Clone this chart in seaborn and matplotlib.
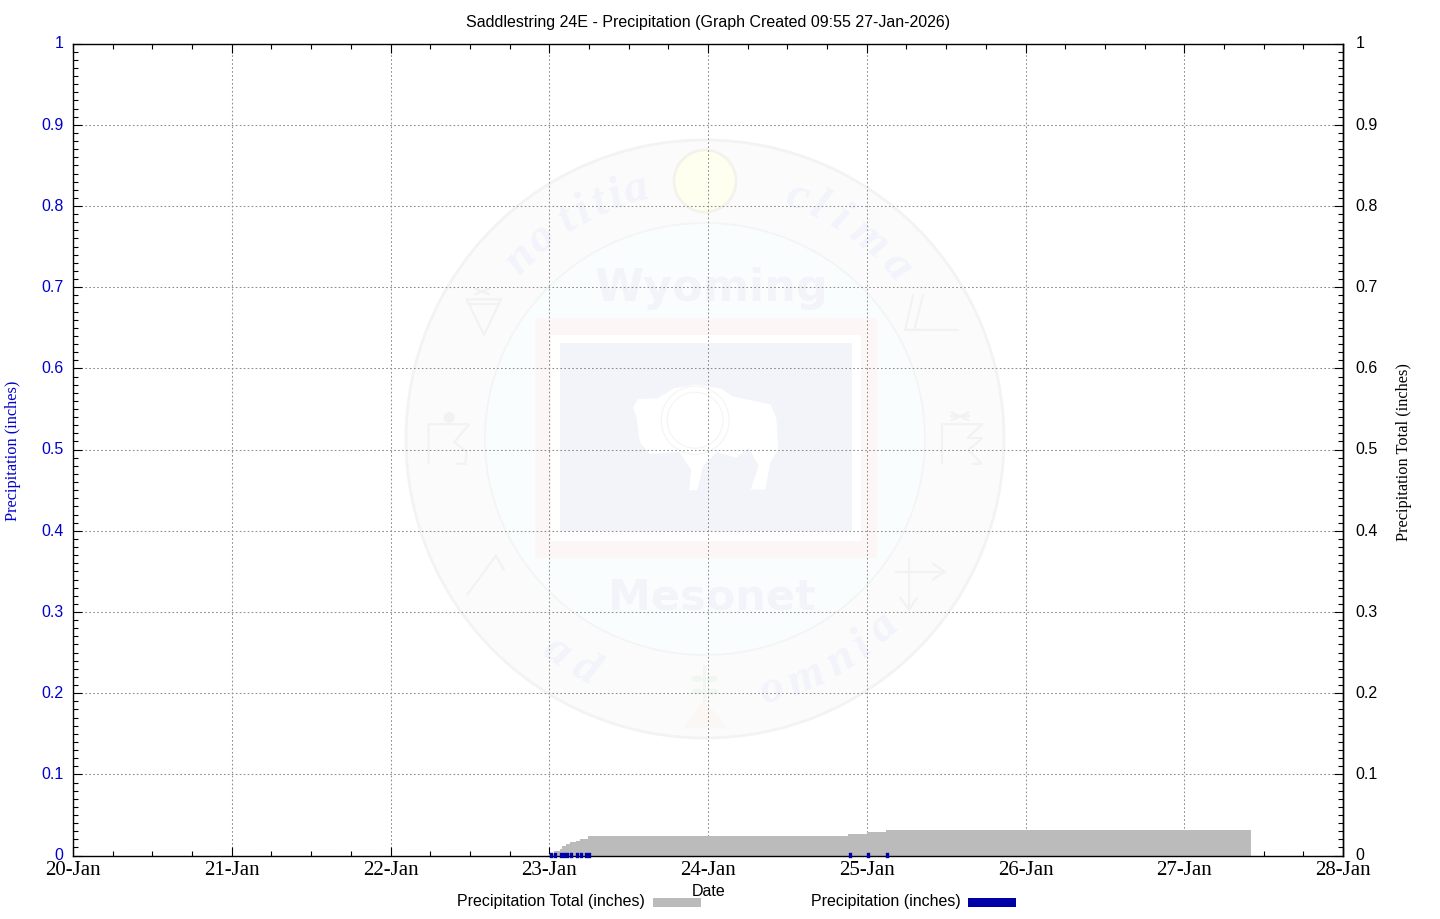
import matplotlib
matplotlib.use("Agg")
import matplotlib.pyplot as plt
import matplotlib.dates as mdates
from matplotlib.legend_handler import HandlerPatch
from matplotlib.patches import Circle, Rectangle, Polygon, Ellipse, Patch
from matplotlib.ticker import MultipleLocator, FormatStrFormatter
from matplotlib.transforms import ScaledTranslation
import numpy as np
import pandas as pd
import seaborn as sns

# ---------- data ----------
title = "Saddlestring 24E - Precipitation (Graph Created 09:55 27-Jan-2026)"
start_date = "2026-01-20"
end_date = "2026-01-28"
total_times = ["2026-01-23 00:00", "2026-01-23 00:40", "2026-01-23 01:35", "2026-01-23 02:00",
               "2026-01-23 02:30", "2026-01-23 03:05", "2026-01-23 04:00", "2026-01-23 04:35",
               "2026-01-23 05:50", "2026-01-24 21:10", "2026-01-25 00:00", "2026-01-25 02:55",
               "2026-01-27 10:00"]
total_values = [0.002, 0.006, 0.0086, 0.0115, 0.014, 0.0164, 0.0185, 0.020,
                0.0246, 0.027, 0.0295, 0.032, 0.032]
precip_times = ["2026-01-23 00:20", "2026-01-23 00:55", "2026-01-23 01:50", "2026-01-23 02:15",
                "2026-01-23 02:45", "2026-01-23 03:20", "2026-01-23 04:15", "2026-01-23 04:45",
                "2026-01-23 05:30", "2026-01-23 06:00", "2026-01-24 21:25", "2026-01-25 00:10",
                "2026-01-25 03:05"]
precip_values = [0.002] * 13

GRAY = "#bbbbbb"
BLUE = "#0000a8"
LBLUE = "#0000cc"
SANS = "Liberation Sans"
SERIF = "Liberation Serif"
FS = 11.5

sns.set_theme(style="white")
plt.rcParams["font.family"] = [SANS, "DejaVu Sans"]
W, H = 1440, 920
fig = plt.figure(figsize=(W / 100, H / 100), dpi=100, facecolor="white")

# ---------- watermark (pixel coordinates of the figure) ----------
bg = fig.add_axes([0, 0, 1, 1], zorder=0)
bg.set_xlim(0, W); bg.set_ylim(H, 0); bg.axis("off")
def z(x, y):
    return 400 + x / 2.524, 130 + y / 2.524
def poly(pts, closed=False, c="#f2f2f2", lw=1.5):
    p = np.array([z(*q) for q in pts])
    if closed:
        p = np.vstack([p, p[:1]])
    bg.plot(p[:, 0], p[:, 1], color=c, lw=lw, solid_joinstyle="miter")

cx, cy = 705, 440
bg.add_patch(Circle((cx, cy), 299, fc="#fbfbfb", ec="#f3f3f3", lw=2))
bg.add_patch(Ellipse((cx, cy), 440, 432, fc="#fafdfe", ec="#f2f4f5", lw=1.2))
bg.add_patch(Circle((705, 182), 31, fc="#fffff0", ec="#f3f3ec", lw=2))
bg.add_patch(Rectangle((534.5, 319), 342.5, 240, fc="#fdf6f6", ec="none"))
bg.add_patch(Rectangle((550.5, 336), 310, 206, fc="white", ec="none"))
bg.add_patch(Rectangle((560, 344), 292, 188, fc="#f3f4f9", ec="none"))
bison = [(588, 705), (600, 682), (650, 680), (690, 655), (745, 645), (810, 655), (840, 675),
         (935, 695), (950, 730), (955, 810), (935, 840), (922, 910), (885, 910), (905, 850),
         (880, 805), (850, 830), (800, 815), (765, 850), (750, 912), (730, 912), (735, 860),
         (705, 815), (630, 820), (605, 790), (597, 725)]
bg.add_patch(Polygon([z(*q) for q in bison], closed=True, fc="white", ec="none"))
bg.add_patch(Circle(z(745, 735), 34, fc="none", ec="#f4f4f6", lw=0.8))
bg.add_patch(Circle(z(745, 735), 28, fc="none", ec="#f4f4f6", lw=0.8))

WM = "#f2f3fb"
bg.text(712, 289, "Wyoming", ha="center", va="center", fontsize=32, fontweight="bold",
        family="DejaVu Sans", color="#f3f4fa")
bg.text(712, 598, "Mesonet", ha="center", va="center", fontsize=31, fontweight="bold",
        family="DejaVu Sans", color="#f3f4fa")
def arc(word, angles, bottom=False, r=259):
    for ch, a in zip(word, angles):
        t = np.deg2rad(a)
        if bottom:
            x, y, rot = cx + r * np.sin(t), cy + r * np.cos(t), a
        else:
            x, y, rot = cx + r * np.sin(t), cy - r * np.cos(t), -a
        bg.text(x, y, ch, ha="center", va="center", rotation=rot, fontsize=34, fontweight="bold",
                fontstyle="italic", family=SERIF, color=WM)
arc("notitia", [-45.5, -39, -32, -28, -24, -20, -15.5])
arc("clima", [20.7, 26, 31.4, 39, 47.8])
arc("omnia", [15, 23, 31.5, 37.5, 43.5], bottom=True)
arc("ad", [-35, -27.7], bottom=True)

poly([(168, 430), (255, 430), (212, 520)], closed=True)
poly([(175, 441), (250, 441)])
poly([(190, 403), (225, 417)]); poly([(225, 403), (190, 417)])
bg.add_patch(Circle(z(124, 728), 5.5, fc="#f2f2f2", ec="none"))
poly([(72, 845), (72, 745), (175, 745), (137, 790), (168, 815), (165, 845), (145, 845)])
poly([(1295, 420), (1275, 507), (1408, 507)]); poly([(1320, 420), (1298, 507)])
poly([(1368, 845), (1368, 745), (1470, 745), (1432, 780), (1470, 780), (1435, 810), (1468, 845), (1445, 845)])
poly([(1392, 715), (1435, 735)]); poly([(1435, 715), (1392, 735)]); poly([(1390, 725), (1437, 725)])
poly([(170, 1175), (242, 1077), (262, 1112)])
poly([(1285, 1085), (1285, 1212)]); poly([(1253, 1117), (1375, 1117)])
poly([(1345, 1097), (1375, 1117), (1345, 1137)]); poly([(1262, 1183), (1285, 1213), (1305, 1183)])
for ex, ey in [(750, 1388), (788, 1388), (750, 1420), (790, 1420)]:
    bg.add_patch(Ellipse(z(ex, ey), 11, 6, fc="#f0f6f0", ec="none"))
poly([(768, 1355), (768, 1440)], c="#f0f6f0", lw=2)
bg.add_patch(Polygon([z(715, 1512), z(768, 1440), z(828, 1512)], closed=True, fc="#fbf7f4", ec="none"))

# ---------- chart ----------
L, R, T, B = 73.0, 1343.0, 44.6, 856.6
ax = fig.add_axes([L / W, 1 - B / H, (R - L) / W, (B - T) / H], zorder=1)
ax.patch.set_alpha(0)

tot = pd.DataFrame({"t": pd.to_datetime(total_times), "v": total_values})
pre = pd.DataFrame({"t": pd.to_datetime(precip_times), "v": precip_values})
pre_long = pd.concat([pre.assign(event=range(len(pre))),
                      pre.assign(v=0.0, event=range(len(pre)))])

ax.fill_between(tot["t"], 0, tot["v"], step="post", color=GRAY, lw=0.7, zorder=1.5, clip_on=False)
sns.lineplot(data=tot, x="t", y="v", drawstyle="steps-post", color=GRAY, lw=0.5, sort=False,
             ax=ax, legend=False, zorder=1.6)
sns.lineplot(data=pre_long, x="t", y="v", units="event", estimator=None, color=BLUE, lw=2.4,
             solid_capstyle="projecting", ax=ax, legend=False, zorder=3, clip_on=False)

ax.set_xlim(pd.Timestamp(start_date), pd.Timestamp(end_date))
ax.set_ylim(0, 1)
ax.set_xlabel(""); ax.set_ylabel("")
ax.xaxis.set_major_locator(mdates.DayLocator())
ax.xaxis.set_major_formatter(mdates.DateFormatter("%d-%b"))
ax.xaxis.set_minor_locator(mdates.HourLocator(byhour=[6, 12, 18]))
ax.yaxis.set_major_locator(MultipleLocator(0.1))
ax.yaxis.set_minor_locator(MultipleLocator(0.01))
ax.yaxis.set_major_formatter(FormatStrFormatter("%g"))
ax.grid(True, which="major", color="#8c8c8c", lw=0.75, ls=(0, (1.6, 2.2)))
ax.set_axisbelow(True)
ax.tick_params(axis="x", which="major", direction="in", length=6.8, width=0.8, color="black",
               top=True, bottom=True, pad=3)
ax.tick_params(axis="x", which="minor", direction="in", length=3.3, width=0.8, color="black",
               top=True, bottom=True)
ax.tick_params(axis="y", which="major", direction="in", length=6.8, width=0.8, color="black",
               left=True, pad=7, labelsize=FS, labelcolor=LBLUE)
ax.tick_params(axis="y", which="minor", direction="in", length=3.3, width=0.8, color="black", left=True)
for lab in ax.get_xticklabels():
    lab.set_family(SERIF); lab.set_fontsize(15); lab.set_color("black")
for s in ax.spines.values():
    s.set_visible(True); s.set_color("black"); s.set_linewidth(1)

ax2 = ax.twinx()
ax2.set_ylim(0, 1)
ax2.patch.set_alpha(0)
ax2.yaxis.set_major_locator(MultipleLocator(0.1))
ax2.yaxis.set_minor_locator(MultipleLocator(0.01))
ax2.yaxis.set_major_formatter(FormatStrFormatter("%g"))
ax2.grid(False)
ax2.tick_params(axis="y", which="major", direction="in", length=6.8, width=0.8, color="black",
                right=True, pad=9, labelsize=FS, labelcolor="black")
ax2.tick_params(axis="y", which="minor", direction="in", length=3.3, width=0.8, color="black", right=True)
for k, s in ax2.spines.items():
    s.set_visible(k == "right"); s.set_color("black"); s.set_linewidth(1)

# the value labels sit a little above their tick marks
lift = ScaledTranslation(0, 1.6 / 72, fig.dpi_scale_trans)
fig.canvas.draw()
for a in (ax, ax2):
    for tick in a.yaxis.get_major_ticks():
        for lab in (tick.label1, tick.label2):
            lab.set_transform(lab.get_transform() + lift)

def px(x, y):
    return x / W, 1 - y / H
fig.text(*px(708, 22), title, ha="center", va="center", fontsize=FS, color="black")
fig.text(*px(708.5, 892), "Date", ha="center", va="center", fontsize=FS, color="black")
fig.text(*px(13.5, 450.5), "Precipitation (inches)", rotation=90, ha="center", va="center",
         family=SERIF, fontsize=11.8, color=LBLUE)
fig.text(*px(1403.5, 452), "Precipitation Total (inches)", rotation=90, ha="center", va="center",
         family=SERIF, fontsize=11.8, color="black")

fs_px = FS * 100 / 72
def low_patch(legend, orig_handle, xdescent, ydescent, width, height, fontsize):
    return Rectangle((-xdescent, -ydescent - 2.3), width, height)
handles = [Patch(fc=GRAY, ec="none", label="Precipitation Total (inches)"),
           Patch(fc=BLUE, ec="none", label="Precipitation (inches)")]
fig.legend(handles=handles, ncol=2, loc="center", bbox_to_anchor=px(736.5, 901.5), frameon=False,
           markerfirst=False, fontsize=FS, borderpad=0, borderaxespad=0,
           handlelength=48 / fs_px, handleheight=9 / fs_px, handletextpad=8 / fs_px,
           columnspacing=110 / fs_px, labelcolor="black",
           handler_map={Patch: HandlerPatch(patch_func=low_patch)})

fig.savefig("out.png", dpi=100)
